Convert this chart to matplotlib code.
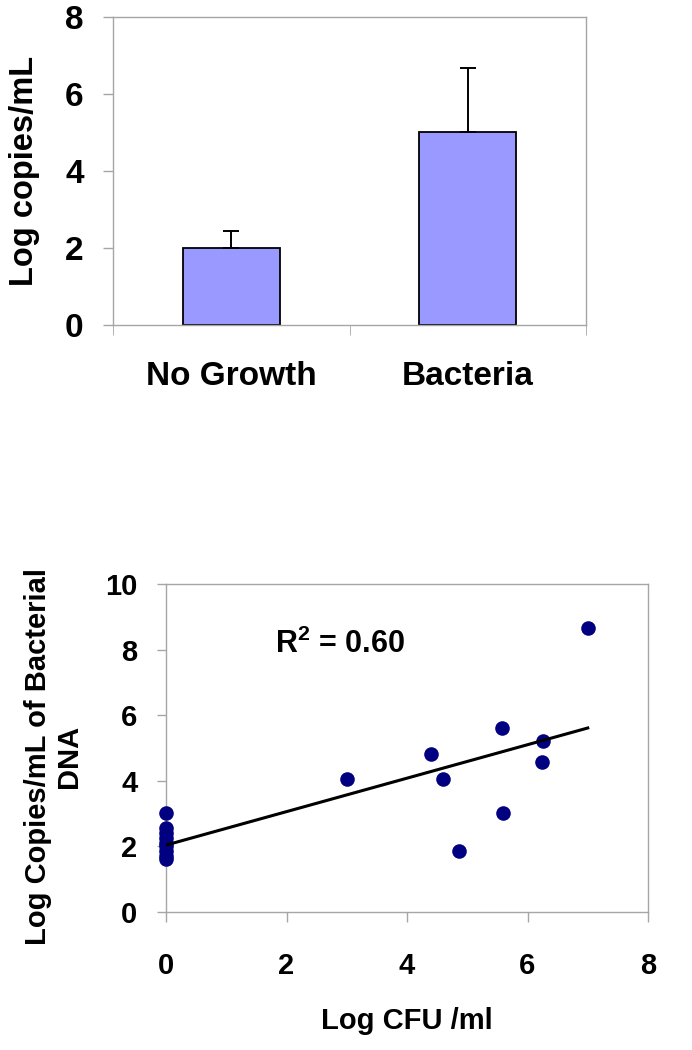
"""Bacterial DNA load: bar chart by culture result and scatter vs CFU."""

import matplotlib
matplotlib.use('Agg')
import matplotlib.pyplot as plt
import numpy as np

plt.rcParams['font.family'] = ['Liberation Sans', 'DejaVu Sans']
plt.rcParams['font.weight'] = 'bold'
plt.rcParams['mathtext.fontset'] = 'custom'
plt.rcParams['mathtext.rm'] = 'Liberation Sans:bold'
plt.rcParams['mathtext.bf'] = 'Liberation Sans:bold'

# top panel: mean log copies/mL by culture result
CATEGORIES = ['No Growth', 'Bacteria']
MEAN_LOG_COPIES = [1.99, 5.01]
SD_LOG_COPIES = [0.46, 1.67]

# bottom panel: log CFU/ml vs log copies/mL
LOG_CFU = [0, 0, 0, 0, 0, 0, 0, 0, 0,
           3.0, 4.40, 4.59, 4.87, 5.57, 5.60, 6.24, 6.26, 7.0]
LOG_COPIES = [3.03, 2.55, 2.4, 2.25, 2.1, 2.0, 1.85, 1.7, 1.62,
              4.07, 4.81, 4.07, 1.87, 5.60, 3.03, 4.56, 5.22, 8.67]
FIT_INTERCEPT = 2.04
FIT_SLOPE = 0.51
FIT_X = [0.0, 7.0]
R_SQUARED = 0.60

GREY = '#a6a6a6'
FS_TOP = 24
FS_BOT = 21


def _style_axes(ax):
    for sp in ax.spines.values():
        sp.set_color(GREY)
        sp.set_linewidth(1.0)
    ax.tick_params(colors=GREY, labelcolor='black', width=1.0)


def _bar_panel(fig):
    ax = fig.add_axes([113 / 692, 1 - 325 / 1050, 473 / 692, 308 / 1050])
    x = np.arange(len(CATEGORIES))
    ax.bar(x, MEAN_LOG_COPIES, width=0.41, color='#9999FF', edgecolor='black',
           linewidth=1.3, zorder=2)
    ax.errorbar(x, MEAN_LOG_COPIES,
                yerr=[np.zeros(len(x)), SD_LOG_COPIES],
                fmt='none', ecolor='black', elinewidth=1.4, capsize=6,
                capthick=1.4, zorder=3)
    ax.set_xlim(-0.5, len(CATEGORIES) - 0.5)
    ax.set_ylim(0, 8)
    ax.set_yticks([0, 2, 4, 6, 8])
    ax.set_xticks(x)
    ax.set_xticklabels(CATEGORIES, fontsize=FS_TOP, fontweight='bold')
    ax.set_xticks(np.arange(-0.5, len(CATEGORIES)), minor=True)
    _style_axes(ax)
    ax.tick_params(axis='x', which='major', length=0, pad=26)
    ax.tick_params(axis='x', which='minor', direction='out', length=7.2,
                   color=GREY)
    ax.tick_params(axis='y', direction='out', length=7.2, pad=14,
                   labelsize=FS_TOP)
    for lab in ax.get_yticklabels():
        lab.set_fontweight('bold')
    ax.set_ylabel('Log copies/mL', fontsize=FS_TOP - 0.5, fontweight='bold')
    ax.yaxis.set_label_coords(-0.154, 0.5)


def _scatter_panel(fig):
    ax = fig.add_axes([166 / 692, 1 - 912 / 1050, 482 / 692, 328 / 1050])
    ax.scatter(LOG_CFU, LOG_COPIES, s=110, color='#000080', linewidths=0,
               zorder=3, clip_on=False)
    fit_x = np.array(FIT_X)
    ax.plot(fit_x, FIT_INTERCEPT + FIT_SLOPE * fit_x, color='black', lw=2.2,
            zorder=4)
    ax.text(1.81, 7.9, r'R$^{\mathbf{2}}$' + f' = {R_SQUARED:.2f}',
            fontsize=22, fontweight='bold', va='baseline', ha='left')
    ax.set_xlim(0, 8)
    ax.set_ylim(0, 10)
    ax.set_xticks([0, 2, 4, 6, 8])
    ax.set_yticks([0, 2, 4, 6, 8, 10])
    _style_axes(ax)
    ax.tick_params(axis='x', direction='out', length=7, pad=22,
                   labelsize=FS_BOT)
    ax.tick_params(axis='y', direction='out', length=6.5, pad=14,
                   labelsize=FS_BOT)
    for lab in ax.get_xticklabels() + ax.get_yticklabels():
        lab.set_fontweight('bold')
    ax.set_xlabel('Log CFU /ml', fontsize=FS_BOT, fontweight='bold')
    ax.xaxis.set_label_coords(0.5, -0.29)
    ax.set_ylabel('Log Copies/mL of Bacterial\nDNA', fontsize=FS_BOT,
                  fontweight='bold', linespacing=1.15)
    ax.yaxis.set_label_coords(-0.172, 0.474)


def main():
    fig = plt.figure(figsize=(6.92, 10.5), dpi=100)
    _bar_panel(fig)
    _scatter_panel(fig)
    fig.savefig('out.png', dpi=100)
    plt.close(fig)


if __name__ == '__main__':
    main()
